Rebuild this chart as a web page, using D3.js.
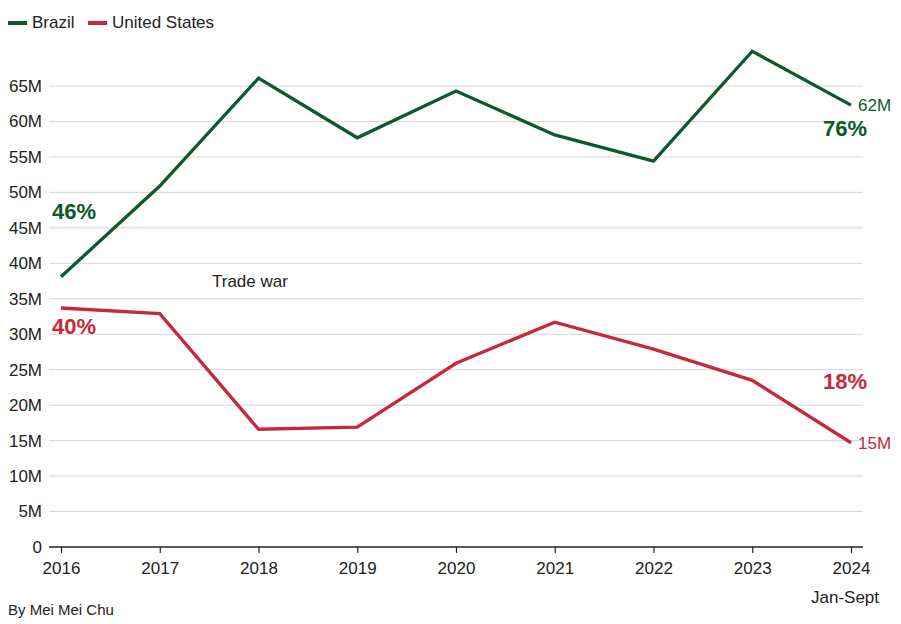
<!DOCTYPE html>
<html><head><meta charset="utf-8">
<script src="https://cdn.jsdelivr.net/npm/d3@7"></script>
<style>body{margin:0;background:#fff;}svg{display:block;font-family:"Liberation Sans",Arial,sans-serif;}</style>
</head><body><svg id="c" width="901" height="624"></svg>
<script>
const years = ["2016","2017","2018","2019","2020","2021","2022","2023","2024"];
const brazil = [38.1, 50.9, 66.1, 57.7, 64.3, 58.1, 54.4, 69.9, 62.3];
const usa = [33.7, 32.9, 16.6, 16.9, 25.9, 31.7, 27.9, 23.5, 14.7];
const yTicks = [0,5,10,15,20,25,30,35,40,45,50,55,60,65];
const seriesNames = ["Brazil","United States"];
const colors = ["#0b5a2b","#c8283d"];

const svg = d3.select("#c");
const x = d3.scalePoint().domain(years).range([61, 851]);
const y = d3.scaleLinear().domain([0, 65]).range([547, 86]);

// gridlines
svg.append("g").selectAll("line").data(yTicks.filter(d=>d>0)).join("line")
  .attr("x1",49).attr("x2",863).attr("y1",d=>y(d)).attr("y2",d=>y(d))
  .attr("stroke","#d6d6d6").attr("stroke-width",1);

// y labels
svg.append("g").selectAll("text").data(yTicks).join("text")
  .attr("x",42).attr("y",d=>y(d)).attr("dy","0.35em").attr("text-anchor","end")
  .attr("font-size",17).attr("fill","#222").text(d=>d===0?"0":d+"M");

// x axis
const xa = svg.append("g").attr("transform","translate(0,547)")
  .call(d3.axisBottom(x).tickSize(6).tickPadding(9).tickSizeOuter(0));
xa.select(".domain").remove();
xa.append("line").attr("x1",49).attr("x2",863).attr("stroke","#222").attr("stroke-width",1.5);
xa.selectAll(".tick line").attr("stroke","#222").attr("stroke-width",1.2);
xa.selectAll(".tick text").attr("font-size",17).attr("fill","#222").attr("font-family","Liberation Sans, Arial, sans-serif");
svg.append("text").attr("x",845).attr("y",603).attr("text-anchor","middle")
  .attr("font-size",17).attr("fill","#222").text("Jan-Sept");

// lines
const line = d3.line().x((d,i)=>x(years[i])).y(d=>y(d));
[brazil, usa].forEach((s,k)=>{
  svg.append("path").datum(s).attr("d",line).attr("fill","none")
    .attr("stroke",colors[k]).attr("stroke-width",3.3).attr("stroke-linejoin","miter");
});

// end labels
svg.append("text").attr("x",858).attr("y",y(brazil[8])).attr("dy","0.35em")
  .attr("font-size",17).attr("fill",colors[0]).text("62M");
svg.append("text").attr("x",858).attr("y",y(usa[8])).attr("dy","0.35em")
  .attr("font-size",17).attr("fill",colors[1]).text("15M");

// percentage labels
const pct = [
  {t:"46%", x:52, y:219, c:0, a:"start"},
  {t:"40%", x:52, y:334, c:1, a:"start"},
  {t:"76%", x:867, y:136, c:0, a:"end"},
  {t:"18%", x:867, y:389, c:1, a:"end"}
];
svg.append("g").selectAll("text").data(pct).join("text")
  .attr("x",d=>d.x).attr("y",d=>d.y).attr("text-anchor",d=>d.a)
  .attr("font-size",22).attr("font-weight","bold").attr("fill",d=>colors[d.c]).text(d=>d.t);

svg.append("text").attr("x",212).attr("y",287).attr("font-size",17).attr("fill","#222").text("Trade war");

// legend
const lg = [{x:8},{x:88}];
seriesNames.forEach((n,k)=>{
  svg.append("line").attr("x1",lg[k].x).attr("x2",lg[k].x+19).attr("y1",23).attr("y2",23)
    .attr("stroke",colors[k]).attr("stroke-width",4);
  svg.append("text").attr("x",lg[k].x+24).attr("y",28).attr("font-size",17).attr("fill","#222").text(n);
});

svg.append("text").attr("x",8).attr("y",615).attr("font-size",15).attr("fill","#222").text("By Mei Mei Chu");
</script></body></html>
